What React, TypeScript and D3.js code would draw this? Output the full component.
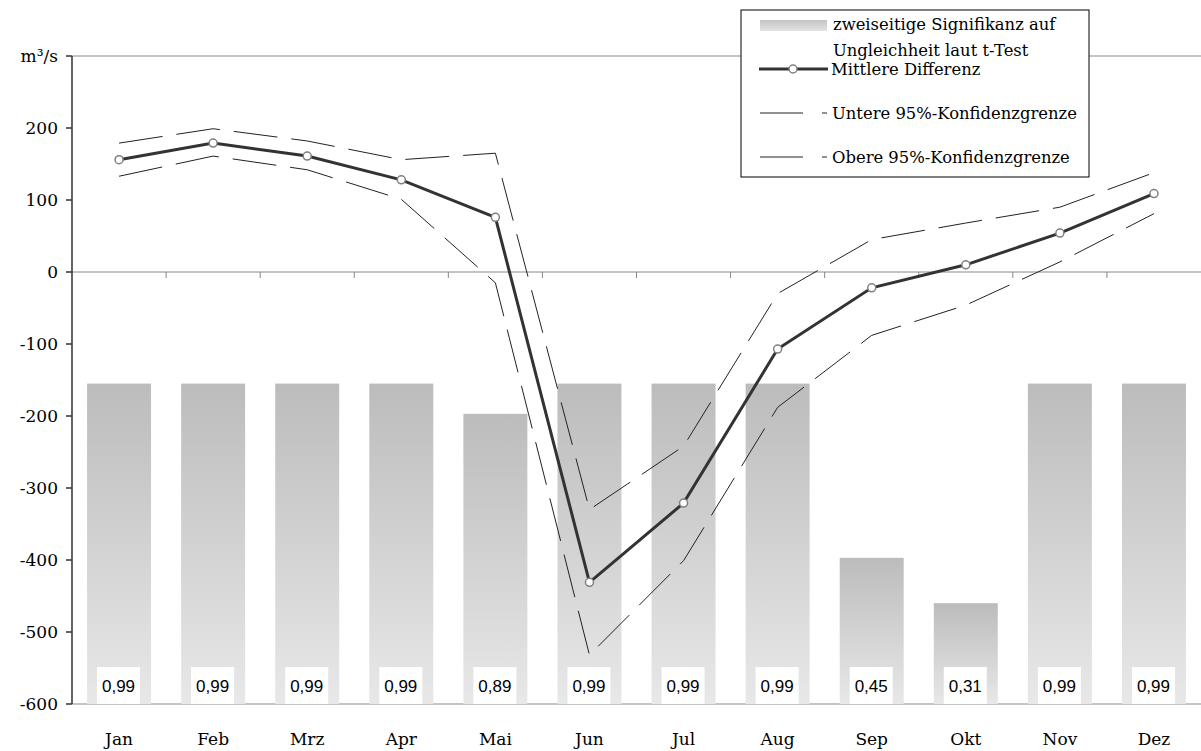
import React from "react";
import * as d3 from "d3";

const months = ["Jan", "Feb", "Mrz", "Apr", "Mai", "Jun", "Jul", "Aug", "Sep", "Okt", "Nov", "Dez"];
const meanDiff = [156, 179, 161, 128, 76, -431, -321, -107, -22, 10, 54, 109];
const upperCI = [179, 199, 182, 156, 165, -330, -242, -30, 45, 68, 90, 138];
const lowerCI = [133, 161, 142, 101, -15, -532, -401, -188, -88, -46, 14, 81];
const significance = ["0,99", "0,99", "0,99", "0,99", "0,89", "0,99", "0,99", "0,99", "0,45", "0,31", "0,99", "0,99"];
const barTops = [-155, -155, -155, -155, -197, -155, -155, -155, -397, -460, -155, -155];
const yTicks = [-600, -500, -400, -300, -200, -100, 0, 100, 200, 300];

const W = 1201, H = 751;
const left = 72, right = 1201, top = 56, bottom = 704;
const serif = "'DejaVu Serif', serif";

export default function App() {
  const x = d3.scaleBand<string>().domain(months).range([left, right]).paddingInner(0.32).paddingOuter(0.16);
  const xStep = d3.scaleBand<string>().domain(months).range([left, right]);
  const y = d3.scaleLinear().domain([-600, 300]).range([bottom, top]);
  const cx = (m: string) => (xStep(m) as number) + xStep.bandwidth() / 2;
  const line = d3.line<number>().x((_, i) => cx(months[i])).y((d) => y(d));

  return (
    <svg width={W} height={H} style={{ position: "absolute", left: 0, top: 0, background: "#fff" }}>
      <defs>
        <linearGradient id="barGrad" x1="0" y1="0" x2="0" y2="1">
          <stop offset="0" stopColor="#bcbcbc" />
          <stop offset="1" stopColor="#e8e8e8" />
        </linearGradient>
        <linearGradient id="legGrad" x1="0" y1="0" x2="0" y2="1">
          <stop offset="0" stopColor="#c4c4c4" />
          <stop offset="1" stopColor="#e4e4e4" />
        </linearGradient>
      </defs>
      <line x1={left} x2={right} y1={y(300)} y2={y(300)} stroke="#888" strokeWidth={1} />
      <line x1={left} x2={right} y1={y(-600)} y2={y(-600)} stroke="#888" strokeWidth={1} />
      {months.map((m, i) => (
        <rect key={m} x={x(m)} width={x.bandwidth()} y={y(barTops[i])} height={y(-600) - y(barTops[i])} fill="url(#barGrad)" />
      ))}
      <line x1={left} x2={right} y1={y(0)} y2={y(0)} stroke="#888" strokeWidth={1} />
      {months.slice(1).map((m) => (
        <line key={"t" + m} x1={xStep(m)} x2={xStep(m)} y1={y(0)} y2={y(0) + 6} stroke="#888" strokeWidth={1} />
      ))}
      {months.map((m, i) => (
        <g key={"s" + m}>
          <rect x={cx(m) - 22} y={y(-600) - 37} width={43} height={37} fill="#fff" />
          <text x={cx(m) - 0.5} y={y(-600) - 12} textAnchor="middle" fontFamily="'Liberation Sans', Arial, sans-serif" fontSize={17} fill="#000">
            {significance[i]}
          </text>
        </g>
      ))}
      <path d={line(upperCI) as string} fill="none" stroke="#222" strokeWidth={1} strokeDasharray="44,14" />
      <path d={line(lowerCI) as string} fill="none" stroke="#222" strokeWidth={1} strokeDasharray="44,14" />
      <path d={line(meanDiff) as string} fill="none" stroke="#333" strokeWidth={3} />
      {meanDiff.map((v, i) => (
        <circle key={"c" + i} cx={cx(months[i])} cy={y(v)} r={4} fill="#fff" stroke="#808080" strokeWidth={1.5} />
      ))}
      <line x1={left} x2={left} y1={top} y2={bottom} stroke="#333" strokeWidth={1.5} />
      {yTicks.map((t) => (
        <g key={"y" + t}>
          <line x1={left - 6} x2={left} y1={y(t)} y2={y(t)} stroke="#333" strokeWidth={1.5} />
          <text x={left - 14} y={y(t)} dy="0.35em" textAnchor="end" fontFamily={serif} fontSize={17} fill="#000">
            {t === 300 ? "m³/s" : String(t)}
          </text>
        </g>
      ))}
      {months.map((m) => (
        <text key={"m" + m} x={cx(m)} y={745} textAnchor="middle" fontFamily={serif} fontSize={17} fill="#000">
          {m}
        </text>
      ))}
      <g>
        <rect x={741} y={10} width={348} height={167} fill="#fff" stroke="#000" strokeWidth={1} />
        <rect x={760} y={20} width={67} height={11} fill="url(#legGrad)" />
        <text x={833} y={30} fontFamily={serif} fontSize={16.4} fill="#000">zweiseitige Signifikanz auf</text>
        <text x={833} y={56} fontFamily={serif} fontSize={16.4} fill="#000">Ungleichheit laut t-Test</text>
        <line x1={759} x2={828} y1={69} y2={69} stroke="#333" strokeWidth={3} />
        <circle cx={793} cy={69} r={4} fill="#fff" stroke="#808080" strokeWidth={1.5} />
        <text x={831} y={75} fontFamily={serif} fontSize={16.4} fill="#000">Mittlere Differenz</text>
        <line x1={760} x2={803} y1={113} y2={113} stroke="#222" strokeWidth={1} />
        <line x1={822} x2={827} y1={113} y2={113} stroke="#222" strokeWidth={1} />
        <text x={832} y={119} fontFamily={serif} fontSize={16.4} fill="#000">Untere 95%-Konfidenzgrenze</text>
        <line x1={760} x2={803} y1={157} y2={157} stroke="#222" strokeWidth={1} />
        <line x1={822} x2={827} y1={157} y2={157} stroke="#222" strokeWidth={1} />
        <text x={832} y={163} fontFamily={serif} fontSize={16.4} fill="#000">Obere 95%-Konfidenzgrenze</text>
      </g>
    </svg>
  );
}
